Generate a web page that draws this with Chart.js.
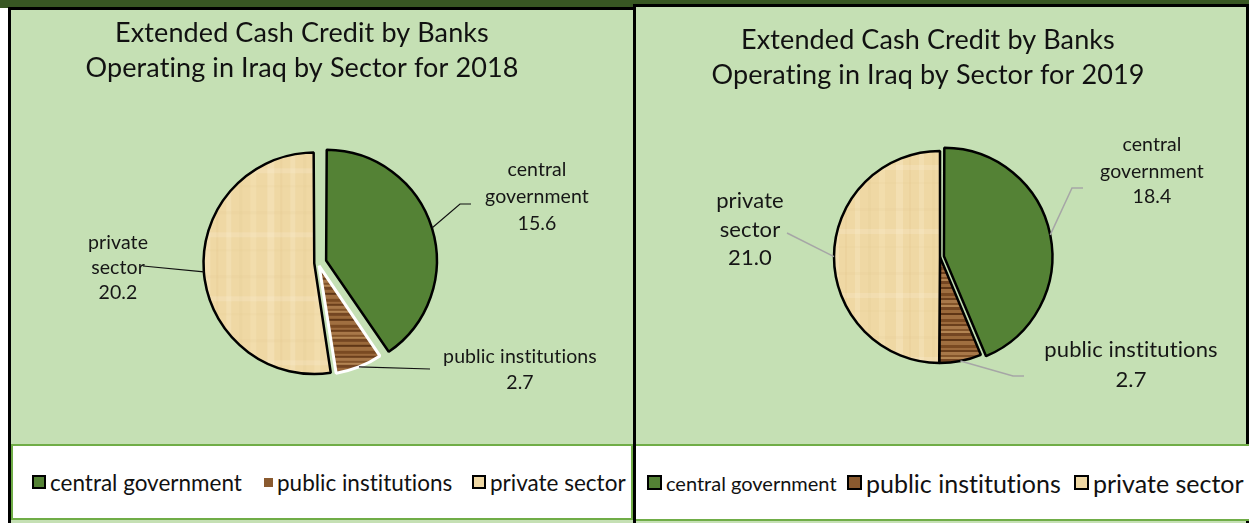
<!DOCTYPE html>
<html>
<head>
<meta charset="utf-8">
<script src="https://cdn.jsdelivr.net/npm/chart.js@4.4.1/dist/chart.umd.min.js"></script>
<style>
  html, body { margin: 0; padding: 0; background: #fff; }
  body { width: 1249px; height: 523px; position: relative; overflow: hidden; font-family: Lato, "Open Sans", sans-serif; color: #111; font-variant-ligatures: none; }
  .band { position: absolute; left: 0; top: 0; width: 1249px; height: 8px; background: #385723; }
  .panel { position: absolute; background: #c5e0b4; border: 3px solid #000; box-sizing: border-box; }
  #panel2018 { left: 8px; top: 7px; width: 628px; height: 540px; }
  #panel2019 { left: 633px; top: 4px; width: 616px; height: 540px; }
  canvas { position: absolute; }
  .legend { position: absolute; background: #fff; box-sizing: border-box; }
  #legend2018 { left: 11px; top: 444px; width: 622px; height: 76px; border: 2px solid #70ad47; }
  #legend2019 { left: 636px; top: 444px; width: 613px; height: 77px; border-top: 2px solid #70ad47; border-bottom: 2px solid #70ad47; }
  .item { position: absolute; top: 0; height: 100%; display: flex; align-items: center; white-space: nowrap; }
  .swatch { box-sizing: border-box; margin-right: 4px; }
</style>
</head>
<body>
<div class="band"></div>
<div class="panel" id="panel2018"></div>
<div class="panel" id="panel2019"></div>
<canvas id="chart2018" width="622" height="434" style="left:11px; top:10px;"></canvas>
<canvas id="chart2019" width="610" height="437" style="left:636px; top:7px;"></canvas>
<div class="legend" id="legend2018"></div>
<div class="legend" id="legend2019"></div>

<script>
// credit by sector, billions
const sectors = ['central government', 'public institutions', 'private sector'];
const values2018 = [15.6, 2.7, 20.2];
const values2019 = [18.4, 2.7, 21.0];
const titleLines = ['Extended Cash Credit by Banks', 'Operating in Iraq by Sector for '];

const GREEN = '#548235';
const BROWN = '#8a5a2f';
const TAN = '#efd8a4';

// wood grain fill for the public institutions slice
function woodPattern(ctx) {
    const c = document.createElement('canvas');
    c.width = 40; c.height = 26;
    const g = c.getContext('2d');
    const bands = [
        ['#7a4a22', 3], ['#9c6a3c', 2], ['#6b3f1c', 2], ['#a87849', 3], ['#83542a', 2],
        ['#b38553', 2], ['#744622', 3], ['#9a693a', 3], ['#5f3616', 2], ['#a06f40', 4]
    ];
    let y = 0;
    bands.forEach(([col, h]) => {
        g.fillStyle = col;
        g.fillRect(0, y, 40, h);
        y += h;
    });
    return ctx.createPattern(c, 'repeat');
}

// papyrus-like fill for the private sector slice
function papyrusPattern(ctx) {
    const c = document.createElement('canvas');
    c.width = 64; c.height = 64;
    const g = c.getContext('2d');
    g.fillStyle = TAN;
    g.fillRect(0, 0, 64, 64);
    const strips = [[4, 'rgba(255,242,214,0.28)', 7], [17, 'rgba(210,182,118,0.12)', 2], [27, 'rgba(255,244,220,0.22)', 5],
                    [40, 'rgba(216,188,126,0.1)', 3], [51, 'rgba(250,234,196,0.25)', 6]];
    strips.forEach(([p, col, w]) => {
        g.fillStyle = col;
        g.fillRect(p, 0, w, 64);
    });
    [[9, 'rgba(225,198,140,0.12)', 3], [30, 'rgba(255,246,226,0.2)', 5], [47, 'rgba(222,196,136,0.1)', 2]].forEach(([p, col, h]) => {
        g.fillStyle = col;
        g.fillRect(0, p, 64, h);
    });
    return ctx.createPattern(c, 'repeat');
}

// titles, callout labels and leader lines, drawn in page coordinates
const callouts = {
    id: 'callouts',
    afterDatasetsDraw(chart, args, opts) {
        const ctx = chart.ctx;
        const [ox, oy] = opts.origin;
        const meta = chart.getDatasetMeta(0);
        const values = chart.data.datasets[0].data;
        ctx.save();
        ctx.translate(-ox, -oy);
        ctx.textAlign = 'center';
        ctx.textBaseline = 'middle';
        // a tiny spacing keeps the fi/ti ligatures apart
        ctx.letterSpacing = '0.1px';

        ctx.fillStyle = '#111';
        ctx.font = opts.titleFont;
        opts.title.forEach((t, i) => ctx.fillText(t, opts.titleX, opts.titleY[i]));

        meta.data.forEach((arc, i) => {
            const c = opts.labels[i];
            const p = arc.getProps(['x', 'y', 'startAngle', 'endAngle', 'outerRadius', 'circumference'], true);
            const mid = (p.startAngle + p.endAngle) / 2;
            const off = (arc.options.offset || 0) / 4;
            const fix = 1 - Math.sin(Math.min(Math.PI, p.circumference));
            const r = p.outerRadius + off + off * fix;
            const ax = p.x + ox + Math.cos(mid) * r;
            const ay = p.y + oy + Math.sin(mid) * r;

            ctx.strokeStyle = opts.leaderColor;
            ctx.lineWidth = opts.leaderWidth;
            ctx.beginPath();
            ctx.moveTo(ax, ay);
            c.line.forEach(([lx, ly]) => ctx.lineTo(lx, ly));
            ctx.stroke();

            ctx.fillStyle = '#161616';
            ctx.font = c.font;
            const lines = c.text.concat([values[i].toFixed(1)]);
            lines.forEach((t, k) => ctx.fillText(t, c.x, c.y[k]));
        });
        ctx.restore();
    }
};

function makePie(id, year, values, radius, offsets, borders, layout) {
    const canvas = document.getElementById(id);
    const ctx = canvas.getContext('2d');
    const [ox, oy] = layout.origin;
    const [cx, cy] = layout.center;
    const lx = cx - ox, ly = cy - oy, half = 150;
    return new Chart(ctx, {
        type: 'pie',
        data: {
            labels: sectors,
            datasets: [{
                data: values,
                backgroundColor: [GREEN, woodPattern(ctx), papyrusPattern(ctx)],
                borderColor: borders.color,
                borderWidth: borders.width,
                offset: offsets,
                hoverOffset: 0,
                radius: radius
            }]
        },
        options: {
            responsive: false,
            animation: false,
            events: [],
            layout: {
                padding: { left: lx - half, right: canvas.width - lx - half, top: ly - half, bottom: canvas.height - ly - half }
            },
            plugins: {
                legend: { display: false },
                tooltip: { enabled: false },
                callouts: {
                    origin: layout.origin,
                    title: [titleLines[0], titleLines[1] + year],
                    titleX: layout.titleX,
                    titleY: layout.titleY,
                    titleFont: '27px Lato',
                    leaderColor: layout.leaderColor,
                    leaderWidth: layout.leaderWidth,
                    labels: layout.labels
                }
            }
        },
        plugins: [callouts]
    });
}

const chart2018 = makePie('chart2018', '2018', values2018, 107, [34, 12, 15],
    { color: ['#000', '#fff', '#000'], width: [2.5, 3, 2.5] },
    {
        origin: [11, 10], center: [318, 263],
        titleX: 302, titleY: [33, 68],
        leaderColor: '#111', leaderWidth: 1.2,
        labels: [
            { text: ['central', 'government'], x: 537, y: [170, 197, 224], font: '19.5px Lato', line: [[460, 204], [471, 204]] },
            { text: ['public institutions'], x: 520, y: [357, 383], font: '19.5px Lato', line: [[430, 369]] },
            { text: ['private', 'sector'], x: 118, y: [243, 268, 293], font: '19.5px Lato', line: [[143, 266]] }
        ]
    });

const chart2019 = makePie('chart2019', '2019', values2019, 106, [16, 0, 0],
    { color: '#000', width: 2.5 },
    {
        origin: [636, 7], center: [940, 257],
        titleX: 928, titleY: [40, 75],
        leaderColor: '#a6a6a6', leaderWidth: 1.5,
        labels: [
            { text: ['central', 'government'], x: 1152, y: [145, 172, 197], font: '19.5px Lato', line: [[1072, 188], [1083, 188]] },
            { text: ['public institutions'], x: 1131, y: [350, 380], font: '22px Lato', line: [[1013, 376], [1024, 376]] },
            { text: ['private', 'sector'], x: 750, y: [201, 230, 258], font: '22px Lato', line: [[787, 233]] }
        ]
    });

// html legends built from each chart's labels and colours
function buildLegend(boxId, chart, boxLeft, items) {
    const box = document.getElementById(boxId);
    const swatchColors = [GREEN, BROWN, TAN];
    chart.data.labels.forEach((label, i) => {
        const it = items[i];
        const el = document.createElement('div');
        el.className = 'item';
        el.style.left = (it.x - boxLeft) + 'px';
        el.style.fontSize = it.size + 'px';
        const sw = document.createElement('span');
        sw.className = 'swatch';
        sw.style.width = it.sw + 'px';
        sw.style.height = it.sw + 'px';
        sw.style.background = swatchColors[i];
        sw.style.border = it.border ? '2px solid #000' : 'none';
        el.appendChild(sw);
        el.appendChild(document.createTextNode(label));
        box.appendChild(el);
    });
}

buildLegend('legend2018', chart2018, 13, [
    { x: 32, size: 22.5, sw: 14, border: true },
    { x: 264, size: 22.5, sw: 9, border: false },
    { x: 472, size: 22.5, sw: 14, border: true }
]);
buildLegend('legend2019', chart2019, 636, [
    { x: 647, size: 20, sw: 15, border: true },
    { x: 847, size: 25, sw: 15, border: true },
    { x: 1074, size: 25, sw: 15, border: true }
]);
</script>
</body>
</html>
